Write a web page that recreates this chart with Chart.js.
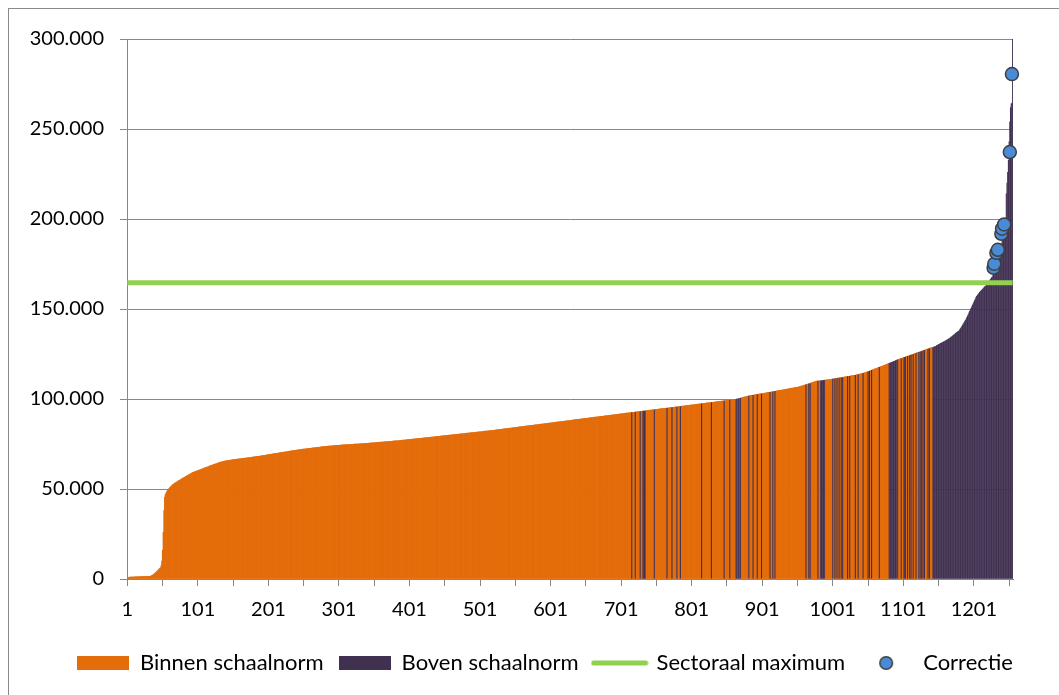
<!DOCTYPE html>
<html><head><meta charset="utf-8">
<script src="https://cdn.jsdelivr.net/npm/chart.js@4.4.1/dist/chart.umd.min.js"></script>
<style>html,body{margin:0;padding:0;background:#fff;}canvas{display:block;}</style>
</head><body>
<canvas id="c" width="1059" height="695"></canvas>
<script>
// Bedragen per instelling (x 1000), oplopend gesorteerd
const bedragenK = [
0.6,0.8,0.9,1.0,1.0,1.0,1.1,1.1,1.1,1.1,
1.1,1.2,1.2,1.2,1.2,1.2,1.2,1.2,1.3,1.3,
1.3,1.3,1.3,1.3,1.3,1.3,1.4,1.4,1.4,1.4,
1.4,1.5,1.5,1.6,1.8,2.0,2.2,2.5,2.8,3.1,
3.5,3.9,4.3,4.7,5.1,5.5,5.9,6.3,7.5,10,
16,26,38,45.5,
47.0,47.8,48.5,49.1,49.7,50.2,50.7,51.1,51.5,51.9,52.3,52.6,52.9,53.2,53.4,53.6,
53.9,54.1,54.4,54.6,54.9,55.1,55.4,55.6,55.8,56.1,56.3,56.5,56.8,57.0,57.2,57.4,57.7,57.9,58.1,58.3,58.5,58.8,59.0,
59.2,59.3,59.5,59.6,59.8,59.9,60.1,60.2,60.4,60.5,60.7,60.8,61.0,61.1,61.3,61.4,61.6,61.7,61.9,62.0,62.2,62.3,62.5,62.6,62.8,62.9,63.1,63.2,63.4,
63.5,63.7,63.8,63.9,64.0,64.2,64.3,64.5,64.6,64.8,64.9,65.0,65.1,65.2,65.3,65.4,65.5,65.6,65.6,65.7,65.8,65.8,65.9,66.0,66.0,66.1,66.1,66.2,
66.3,66.3,66.4,66.4,66.5,66.5,66.6,66.6,66.7,66.7,66.8,66.8,66.9,66.9,67.0,67.0,67.1,67.1,67.2,67.2,67.3,67.3,67.4,67.4,67.5,67.5,
67.6,67.7,67.7,67.8,67.8,67.9,68.0,68.0,68.1,68.1,68.2,68.2,68.3,68.3,68.4,68.5,68.5,68.6,68.6,68.7,68.8,
68.9,68.9,69.0,69.1,69.1,69.2,69.3,69.3,69.4,69.4,
69.5,69.6,69.6,69.7,69.8,69.8,69.9,70.0,70.0,70.1,
70.2,70.2,70.3,70.4,70.4,70.5,70.5,70.6,70.7,70.7,
70.8,70.9,70.9,71.0,71.1,71.1,71.2,71.3,71.3,71.4,
71.4,71.5,71.5,71.6,71.6,71.7,71.7,71.8,
71.9,71.9,72.0,72.0,72.1,72.1,72.2,72.2,72.3,72.3,
72.4,72.4,72.5,72.5,72.6,72.6,72.7,72.7,72.8,72.8,
72.9,72.9,73.0,73.0,73.1,73.1,73.2,73.2,73.3,73.3,
73.4,73.4,73.5,73.5,73.6,73.6,73.7,73.7,73.7,73.8,
73.8,73.8,73.9,73.9,73.9,74.0,74.0,
74.0,74.1,74.1,74.1,74.2,74.2,74.2,74.3,74.3,74.3,
74.4,74.4,74.4,74.5,74.5,74.5,74.5,74.6,74.6,74.6,
74.6,74.7,74.7,74.7,74.7,74.8,74.8,74.8,74.8,74.9,
74.9,74.9,74.9,75.0,75.0,75.0,75.0,75.1,75.1,75.1,
75.1,75.2,75.2,75.2,75.2,75.3,75.3,
75.3,75.4,75.4,75.4,75.5,75.5,75.5,75.6,75.6,75.6,
75.7,75.7,75.7,75.8,75.8,75.8,75.9,75.9,75.9,76.0,
76.0,76.0,76.1,76.1,76.1,76.2,76.2,76.2,76.3,76.3,
76.3,76.4,76.4,76.4,76.5,76.5,76.5,76.6,76.6,76.6,
76.7,76.7,76.7,76.7,76.8,76.8,76.8,
76.9,76.9,77.0,77.0,77.1,77.1,77.1,77.2,77.2,77.3,
77.3,77.4,77.4,77.4,77.5,77.5,77.6,77.6,77.7,77.7,
77.7,77.8,77.8,77.9,77.9,78.0,78.0,78.0,78.1,78.1,
78.2,78.2,78.3,78.3,78.3,78.4,78.4,78.5,78.5,78.6,
78.6,78.6,78.7,78.7,78.8,78.8,78.9,78.9,78.9,79.0,
79.0,79.1,79.1,79.2,79.2,79.2,79.3,79.3,79.4,79.4,
79.5,79.5,79.5,79.6,79.6,79.7,79.7,79.8,79.8,79.8,
79.9,79.9,80.0,80.0,80.1,80.1,80.1,80.2,80.2,80.3,
80.3,80.4,80.4,80.4,80.5,80.5,80.6,80.6,80.7,80.7,
80.7,80.8,80.8,80.9,80.9,81.0,81.0,81.0,81.1,81.1,
81.2,81.2,81.3,81.3,81.3,81.4,81.4,81.5,81.5,81.6,
81.6,81.6,81.7,81.7,81.8,81.8,81.9,81.9,81.9,82.0,
82.0,82.1,82.1,82.2,82.2,82.2,82.3,82.3,82.4,82.4,
82.5,82.5,82.5,82.6,82.6,82.7,82.7,82.8,82.8,82.9,
82.9,83.0,
83.1,83.1,83.2,83.2,83.3,83.3,83.4,83.4,83.5,83.5,
83.6,83.6,83.7,83.7,83.8,83.8,83.9,83.9,84.0,84.0,
84.1,84.1,84.2,84.2,84.3,84.3,84.4,84.4,84.5,84.5,
84.6,84.6,84.7,84.7,84.8,84.8,84.9,84.9,85.0,85.0,
85.1,85.1,85.2,85.2,85.3,85.3,85.4,85.4,85.5,85.5,
85.6,85.6,85.7,85.7,85.8,85.8,85.9,85.9,86.0,86.0,
86.1,86.1,86.2,86.2,86.3,86.3,86.4,86.4,86.5,86.5,
86.6,86.6,86.7,86.7,86.8,86.8,86.9,86.9,87.0,87.0,
87.1,87.1,87.2,87.2,87.3,87.3,87.4,87.4,87.5,87.5,
87.6,87.6,87.7,87.7,87.8,87.8,87.9,87.9,88.0,88.0,
88.1,88.1,88.2,88.3,88.3,88.4,88.4,88.5,88.5,88.6,
88.6,88.7,88.7,88.8,88.8,88.9,88.9,89.0,89.0,89.1,
89.1,89.2,89.2,89.3,89.3,89.4,89.4,89.5,89.5,89.6,
89.6,89.7,89.7,89.8,89.8,89.9,89.9,90.0,90.0,90.1,
90.1,90.2,
90.2,90.3,90.3,90.4,90.4,90.5,90.5,90.6,90.6,90.7,
90.7,90.8,90.8,90.9,90.9,91.0,91.0,91.1,91.1,91.2,
91.2,91.3,91.3,91.4,91.4,91.5,91.5,91.6,91.6,91.7,
91.7,91.8,91.8,91.9,91.9,92.0,92.0,92.1,92.1,92.2,
92.2,92.3,92.3,92.4,92.4,92.5,92.5,
92.6,92.6,92.7,92.7,92.8,92.8,92.9,92.9,93.0,93.0,
93.1,93.1,93.2,93.2,93.3,93.3,93.4,93.4,93.5,93.5,
93.6,93.6,93.7,93.7,93.8,93.8,93.9,93.9,94.0,94.0,
94.1,94.1,94.2,94.2,94.3,94.3,94.4,94.4,94.5,94.5,
94.6,94.6,94.7,94.7,94.7,94.8,94.8,
94.9,94.9,95.0,95.0,95.1,95.1,95.2,95.2,95.3,95.3,
95.4,95.4,95.5,95.5,95.6,95.6,95.7,95.7,95.8,95.8,
95.9,95.9,96.0,96.0,96.1,96.1,96.2,96.2,96.3,96.3,
96.4,96.4,96.5,96.5,96.6,96.6,96.7,96.7,96.8,96.8,
96.9,96.9,97.0,97.0,97.1,97.1,97.2,97.2,
97.3,97.3,97.4,97.4,97.5,97.5,97.6,97.6,97.7,97.7,
97.8,97.8,97.9,97.9,98.0,98.0,98.1,98.1,98.2,98.2,
98.3,98.3,98.4,98.4,98.5,98.5,98.6,98.6,98.7,98.7,
98.8,98.8,98.9,98.9,99.0,99.0,99.1,99.1,99.2,99.2,
99.2,99.3,99.3,99.3,99.4,99.4,99.4,
99.5,99.6,99.7,99.8,99.9,100.0,100.1,100.2,100.3,100.4,
100.5,100.6,100.7,100.8,100.9,101.0,101.1,101.2,101.3,101.4,
101.5,101.6,101.7,101.8,
101.9,101.9,102.0,102.1,102.1,102.2,102.3,102.3,102.4,102.5,
102.5,102.6,102.7,102.7,102.8,102.9,102.9,103.0,103.1,103.1,
103.2,103.3,103.3,
103.4,103.5,103.5,103.6,103.7,103.8,103.8,103.9,104.0,104.0,
104.1,104.2,104.3,104.3,104.4,104.5,104.5,104.6,104.7,104.8,
104.8,104.9,105.0,105.0,105.1,105.2,105.3,105.3,105.4,105.5,
105.5,105.6,105.7,105.8,105.8,105.9,106.0,106.0,106.1,106.2,
106.3,106.3,106.4,106.5,106.5,106.6,106.7,106.8,
106.9,107.1,107.2,107.3,107.4,107.6,107.7,107.8,108.0,108.1,
108.2,108.3,108.5,108.6,108.7,108.8,109.0,109.1,109.2,109.4,
109.5,109.6,109.8,
109.9,109.9,110.0,110.0,110.1,110.1,110.2,110.2,110.3,110.3,
110.4,110.4,110.5,110.5,110.6,110.6,110.7,110.7,110.8,110.8,
110.9,110.9,111.0,111.1,
111.2,111.2,111.3,111.4,111.4,111.5,111.6,111.6,111.7,111.8,
111.8,111.9,112.0,112.0,112.1,112.2,112.2,112.3,112.4,112.4,
112.5,112.6,112.6,112.7,112.8,112.8,112.9,113.0,113.0,113.1,
113.2,113.2,113.3,
113.4,113.5,113.6,113.7,113.8,113.9,114.0,114.1,114.2,114.3,
114.4,114.5,114.7,114.8,
114.9,115.1,115.2,115.4,115.5,115.7,115.8,116.0,116.1,116.3,
116.4,116.6,116.7,116.9,117.0,117.2,117.3,117.5,117.6,117.8,
117.9,118.1,118.2,118.4,118.5,118.7,118.8,119.0,
119.2,119.3,119.5,119.7,119.9,120.0,120.2,120.4,120.5,120.7,
120.9,121.0,121.2,121.4,
121.5,121.7,121.8,121.9,122.1,122.2,122.4,122.5,122.6,122.8,
122.9,123.1,123.2,123.3,123.5,123.6,123.8,123.9,124.0,124.2,
124.3,124.5,124.6,124.7,124.9,125.0,125.2,125.3,125.4,125.6,
125.7,125.9,126.0,126.1,126.3,126.4,126.6,126.7,126.8,127.0,
127.1,127.3,127.4,127.5,127.7,127.8,128.0,128.1,128.2,128.4,
128.5,128.6,128.7,128.9,129.0,
129.2,129.4,129.7,129.9,130.1,130.3,130.5,130.8,131.0,131.2,
131.4,131.6,131.8,132.0,132.2,132.4,132.7,132.9,133.1,133.4,133.6,
133.9,134.2,134.5,134.9,135.2,135.5,135.8,136.1,136.5,136.8,
137.1,137.4,137.7,138.0,
138.6,139.2,139.8,140.5,141.1,141.8,142.4,143.1,143.8,144.5,
145.3,146.2,147.0,147.9,148.8,149.6,150.5,151.3,152.2,153.0,153.9,154.8,155.6,156.5,
157.1,157.6,158.2,158.7,159.3,
159.7,160.1,160.5,161.0,161.4,161.8,162.2,162.6,163.0,
163.5,164.1,164.6,165.2,165.7,166.3,166.8,
167.4,168.0,168.6,169.3,169.9,170.6,171.2,
172.5,174.0,175.5,177.5,179.5,181.5,183.5,185.5,187.5,189.5,191.5,194.0,197.0,
200.0,
214.0,220.0,226.0,232.6,
243.0,254.0,262.0,264.0,264.5,320.0
];
// Instellingen boven de schaalnorm (categorie-nummers, van-tot)
const bovenSchaalnorm = [
[716,716],[721,721],[728,728],[732,735],[748,748],[766,766],[773,773],[780,780],[785,785],
[815,815],[829,829],[847,847],[855,855],[864,865],[867,868],[870,870],[882,882],[888,888],
[894,894],[900,900],[912,912],[916,916],[919,919],[963,963],[967,967],[969,969],[980,980],
[984,989],[1001,1001],[1004,1004],[1007,1007],[1010,1010],[1013,1013],[1015,1015],[1022,1022],
[1025,1025],[1033,1033],[1037,1037],[1044,1044],[1051,1051],[1053,1053],[1056,1056],[1067,1067],
[1081,1091],[1093,1093],[1098,1098],[1102,1104],[1107,1107],[1110,1110],[1112,1112],[1115,1115],
[1119,1119],[1123,1123],[1125,1125],[1127,1127],[1129,1129],[1131,1131],[1136,1136],[1138,1138],
[1143,1256]
];
const correctieCategorie = [1229,1230,1233,1235,1240,1241,1244,1252,1255];
const correctieK = [172.9,175.1,181.2,182.9,191.8,194.6,197.0,237.2,280.5];
const sectoraalMaximumK = 164.6;
const yTickStap = 50000;
const yMax = 300000;

const N = bedragenK.length;
const categories = bedragenK.map((_, i) => String(i + 1));
const isBoven = new Array(N).fill(false);
bovenSchaalnorm.forEach(([a, b]) => { for (let k = a; k <= b && k <= N; k++) isBoven[k - 1] = true; });
const binnenData = bedragenK.map((v, i) => isBoven[i] ? null : v * 1000);
const bovenData = bedragenK.map((v, i) => isBoven[i] ? v * 1000 : null);
const correctieData = correctieCategorie.map((c, i) => ({ x: String(c), y: correctieK[i] * 1000 }));
const sectorData = [{ x: categories[0], y: sectoraalMaximumK * 1000 }, { x: categories[N - 1], y: sectoraalMaximumK * 1000 }];

const ORANJE = '#E46C0A', PAARS = '#403151', GROEN = '#92D050', BLAUW = '#4A8BD8', GRIJS = '#878787';
const LEGEND_CENTER_X = 545;

function swatch(color) {
  const c = document.createElement('canvas'); c.width = 52; c.height = 14;
  const x = c.getContext('2d'); x.fillStyle = color; x.fillRect(0, 0, 52, 14); return c;
}
function lineSwatch(color) {
  const c = document.createElement('canvas'); c.width = 58; c.height = 8;
  const x = c.getContext('2d'); x.strokeStyle = color; x.lineWidth = 5; x.lineCap = 'round';
  x.beginPath(); x.moveTo(3, 4); x.lineTo(55, 4); x.stroke(); return c;
}
function dotSwatch() {
  const c = document.createElement('canvas'); c.width = 16; c.height = 16;
  const x = c.getContext('2d'); x.fillStyle = BLAUW; x.strokeStyle = '#3f3f3f'; x.lineWidth = 1.5;
  x.beginPath(); x.arc(8, 8, 6.3, 0, Math.PI * 2); x.fill(); x.stroke(); return c;
}
const fmt = v => String(v).replace(/\B(?=(\d{3})+(?!\d))/g, '.');

const framePlugin = {
  id: 'frame',
  afterLayout(chart) {
    const lg = chart.legend;
    if (lg) { const d = LEGEND_CENTER_X - (lg.left + lg.right) / 2; lg.left += d; lg.right += d; }
  },
  beforeDraw(chart) {
    const ctx = chart.ctx; ctx.save(); ctx.strokeStyle = '#8a8a8a'; ctx.lineWidth = 1;
    ctx.strokeRect(8.5, 8.5, 1200, 1200); ctx.restore();
  }
};

function draw() {
  Chart.defaults.font.family = 'Lato';
  Chart.defaults.font.size = 20;
  Chart.defaults.color = '#000';
  new Chart(document.getElementById('c'), {
    type: 'bar',
    data: {
      labels: categories,
      datasets: [
        { type: 'line', label: 'Correctie', data: correctieData, showLine: false, pointRadius: 6.5,
          pointBackgroundColor: BLAUW, pointBorderColor: '#3f3f3f', pointBorderWidth: 1.5, order: 0 },
        { type: 'line', label: 'Sectoraal maximum', data: sectorData, borderColor: GROEN, borderWidth: 5,
          pointRadius: 0, order: 1 },
        { label: 'Boven schaalnorm', data: bovenData, backgroundColor: PAARS, borderWidth: 0,
          barPercentage: 1, categoryPercentage: 1, inflateAmount: 0.2, order: 2 },
        { label: 'Binnen schaalnorm', data: binnenData, backgroundColor: ORANJE, borderWidth: 0,
          barPercentage: 1, categoryPercentage: 1, inflateAmount: 0.35, order: 3 }
      ]
    },
    options: {
      responsive: false, animation: false, devicePixelRatio: 1,
      layout: { padding: { left: 20, right: 46, top: 39, bottom: 11 } },
      plugins: {
        tooltip: { enabled: false },
        legend: {
          position: 'bottom',
          labels: {
            usePointStyle: true, pointStyleWidth: 52, boxHeight: 14, padding: 15,
            font: { size: 22, family: 'Lato' }, color: '#000',
            generateLabels: () => [
              { text: 'Binnen schaalnorm', pointStyle: swatch(ORANJE), fillStyle: ORANJE, strokeStyle: ORANJE, lineWidth: 0, hidden: false, datasetIndex: 3 },
              { text: 'Boven schaalnorm', pointStyle: swatch(PAARS), fillStyle: PAARS, strokeStyle: PAARS, lineWidth: 0, hidden: false, datasetIndex: 2 },
              { text: 'Sectoraal maximum', pointStyle: lineSwatch(GROEN), fillStyle: GROEN, strokeStyle: GROEN, lineWidth: 0, hidden: false, datasetIndex: 1 },
              { text: 'Correctie', pointStyle: dotSwatch(), fillStyle: BLAUW, strokeStyle: BLAUW, lineWidth: 0, hidden: false, datasetIndex: 0 }
            ]
          }
        }
      },
      scales: {
        x: {
          stacked: true, offset: true,
          grid: { offset: false, drawOnChartArea: false, drawTicks: true, tickLength: 7, color: GRIJS },
          border: { color: GRIJS },
          afterBuildTicks: s => { s.ticks = s.ticks.filter(t => t.value % 50 === 0); },
          afterFit: s => { s.height = s.height + 3; },
          ticks: { autoSkip: false, maxRotation: 0, minRotation: 0, padding: 12, color: '#000',
            callback: v => (v % 100 === 0 ? categories[v] : '') }
        },
        y: {
          min: 0, max: yMax,
          afterFit: s => { s.width = 107; },
          ticks: { stepSize: yTickStap, padding: 16, color: '#000', callback: v => fmt(v) },
          grid: { color: GRIJS, tickLength: 7 },
          border: { color: GRIJS }
        }
      }
    },
    plugins: [framePlugin]
  });
}
if (document.fonts && document.fonts.load) {
  document.fonts.load('20px Lato').then(draw, draw);
} else { draw(); }
</script>
</body></html>
